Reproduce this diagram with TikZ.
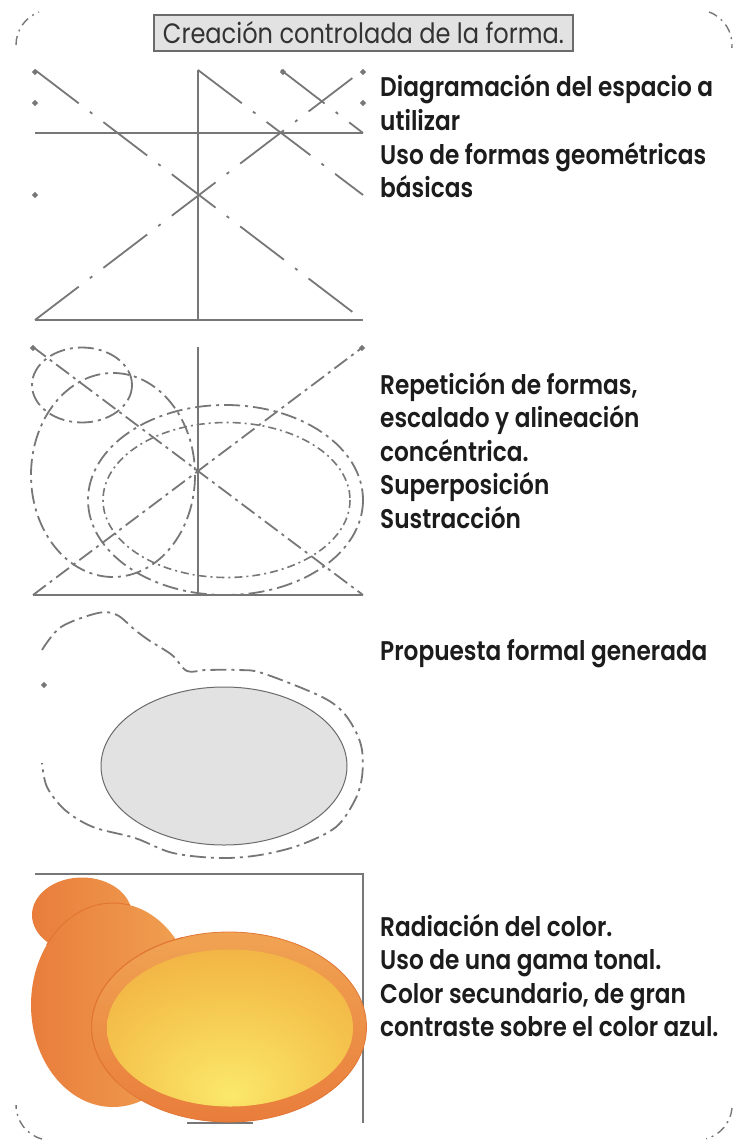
\documentclass[tikz,border=0pt]{standalone}
\usepackage{fontspec}
\setmainfont{Poppins}
\newfontfamily\notefont{Poppins SemiBold}[FakeStretch=0.86]
\newfontfamily\titlefont{Poppins}[FakeStretch=0.86]

\definecolor{guide}{HTML}{777777}
\definecolor{ink}{HTML}{1C1C1C}
\definecolor{panel}{HTML}{E2E2E2}
\definecolor{shelldark}{HTML}{E97D3C}
\definecolor{shelllight}{HTML}{F0A352}
\definecolor{shellrim}{HTML}{E27634}
\definecolor{yolklight}{HTML}{FBE96C}
\definecolor{yolkmid}{HTML}{F5C64E}
\definecolor{yolkedge}{HTML}{EE9A38}

% bright spot sits low in the inner ellipse
\pgfdeclareradialshading{yolk}{\pgfpoint{0bp}{-22bp}}{%
  color(0bp)=(yolklight); color(22bp)=(yolkmid); color(50bp)=(yolkedge)}

\begin{document}
\begin{tikzpicture}[x=1pt, y=1pt, yscale=-1,
  guide/.style={draw=guide, line width=2.2pt},
  sketch/.style={draw=guide, line width=1.8pt, dash pattern=on 16pt off 5pt on 3pt off 5pt},
  sketchlong/.style={draw=guide, line width=1.8pt, dash pattern=on 55pt off 14pt on 3pt off 14pt},
  sketchfine/.style={draw=guide, line width=1.6pt, dash pattern=on 8pt off 4pt on 2pt off 4pt},
  corner/.style={draw=guide, line width=1.4pt, dash pattern=on 9pt off 5pt on 2pt off 5pt},
  note/.style={anchor=base west, inner sep=0pt, text=ink, font=\notefont\fontsize{27}{32}\selectfont},
  titlebox/.style={draw=guide!90!black, fill=panel, line width=1.3pt, inner sep=0pt,
    minimum width=419pt, minimum height=36pt, text=ink!90, font=\titlefont\fontsize{28}{32}\selectfont},
]
\useasboundingbox (0,0) rectangle (732,1142);

% rounded frame, only the corners show
\draw[corner] (16,45) arc[start angle=180, end angle=250, radius=35];
\draw[corner] (709,12) arc[start angle=290, end angle=365, radius=35];
\draw[corner] (732,1108) arc[start angle=5, end angle=75, radius=35];
\draw[corner] (42,1139) arc[start angle=105, end angle=180, radius=35];

\node[titlebox] (title) at (363.5,33) {Creación controlada de la forma.};

%% grid of the space
\draw[guide] (198,70) -- (198,320);
\draw[guide] (35,133) -- (363,133);
\draw[guide] (35,320) -- (363,320);
\draw[sketchlong] (35,70) -- (363,320);
\draw[sketchlong] (35,320) -- (363,70);
\draw[sketchlong] (198,70) -- (363,195);
\draw[sketchlong] (281,70) -- (363,133);
\foreach \p in {(35,72),(35,103),(283,72),(363,72),(363,103),(35,195)}
  \fill[guide] \p circle (1.6);

\foreach \txt [count=\i from 0] in {Diagramación del espacio a, utilizar, Uso de formas geométricas, básicas}
  \node[note] (diag\i) at (380, 97+33.6*\i) {\txt};

%% repeated shapes
\draw[guide] (198,347) -- (198,595);
\draw[guide] (33,595) -- (363,595);
\draw[sketch] (33,347) -- (363,595);
\draw[sketch] (33,595) -- (363,347);
\fill[guide] (33,348) circle (1.6);
\fill[guide] (362,348) circle (1.6);
\draw[sketch] (82,385) ellipse [x radius=50, y radius=37.5];
\draw[sketch] (113,475) ellipse [x radius=82, y radius=102];
\draw[sketch] (225.5,500) ellipse [x radius=137.5, y radius=95];
\draw[sketchfine] (226.5,500) ellipse [x radius=123.5, y radius=77.5];

\foreach \txt [count=\i from 0] in {{Repetición de formas,}, escalado y alineación, concéntrica., Superposición, Sustracción}
  \node[note] (rep\i) at (380, 394+33.5*\i) {\txt};

%% resulting form
\draw[sketch] plot[smooth, tension=0.55] coordinates {(42,650) (61,627) (98,613) (117,615)
  (135,630) (150,641) (172,655) (187,671) (206,670) (238,670) (262,673) (318,695) (341,710)
  (355,730) (362,750) (362,777) (355,800) (336,827) (300,845) (260,855) (220,858) (173,853)
  (135,838) (93,827) (65,810) (47,787) (42,763)};
\fill[guide] (44,685) circle (1.6);
\draw[guide!90!black, fill=panel, line width=1pt] (224,766) ellipse [x radius=123, y radius=79];

\node[note] (prop) at (380,660) {Propuesta formal generada};

%% colour
\draw[guide] (35,874) -- (363,874) -- (363,1123);
\draw[guide] (187,1123) -- (253,1123);
% head and body share one shading
\shade[left color=shelldark, right color=shelllight]
  (82,915) ellipse [x radius=50, y radius=37.5]
  (113,1005) ellipse [x radius=82, y radius=102];
\draw[shellrim, line width=1pt] (113,1005) ++(216:82 and 102) arc[start angle=216, end angle=282, x radius=82, y radius=102];
\shade[top color=shelllight, bottom color=shelldark, draw=shellrim, line width=0.8pt] (229,1027) ellipse [x radius=137.5, y radius=95];
\draw[shellrim, line width=1pt] (229,1027) ++(145:137.5 and 95) arc[start angle=145, end angle=250, x radius=137.5, y radius=95];
\shade[shading=yolk] (230,1028) ellipse [x radius=123, y radius=78.5];

\foreach \txt [count=\i from 0] in {Radiación del color., Uso de una gama tonal., {Color secundario, de gran}, contraste sobre el color azul.}
  \node[note] (rad\i) at (380, 936+33.5*\i) {\txt};
\end{tikzpicture}
\end{document}
